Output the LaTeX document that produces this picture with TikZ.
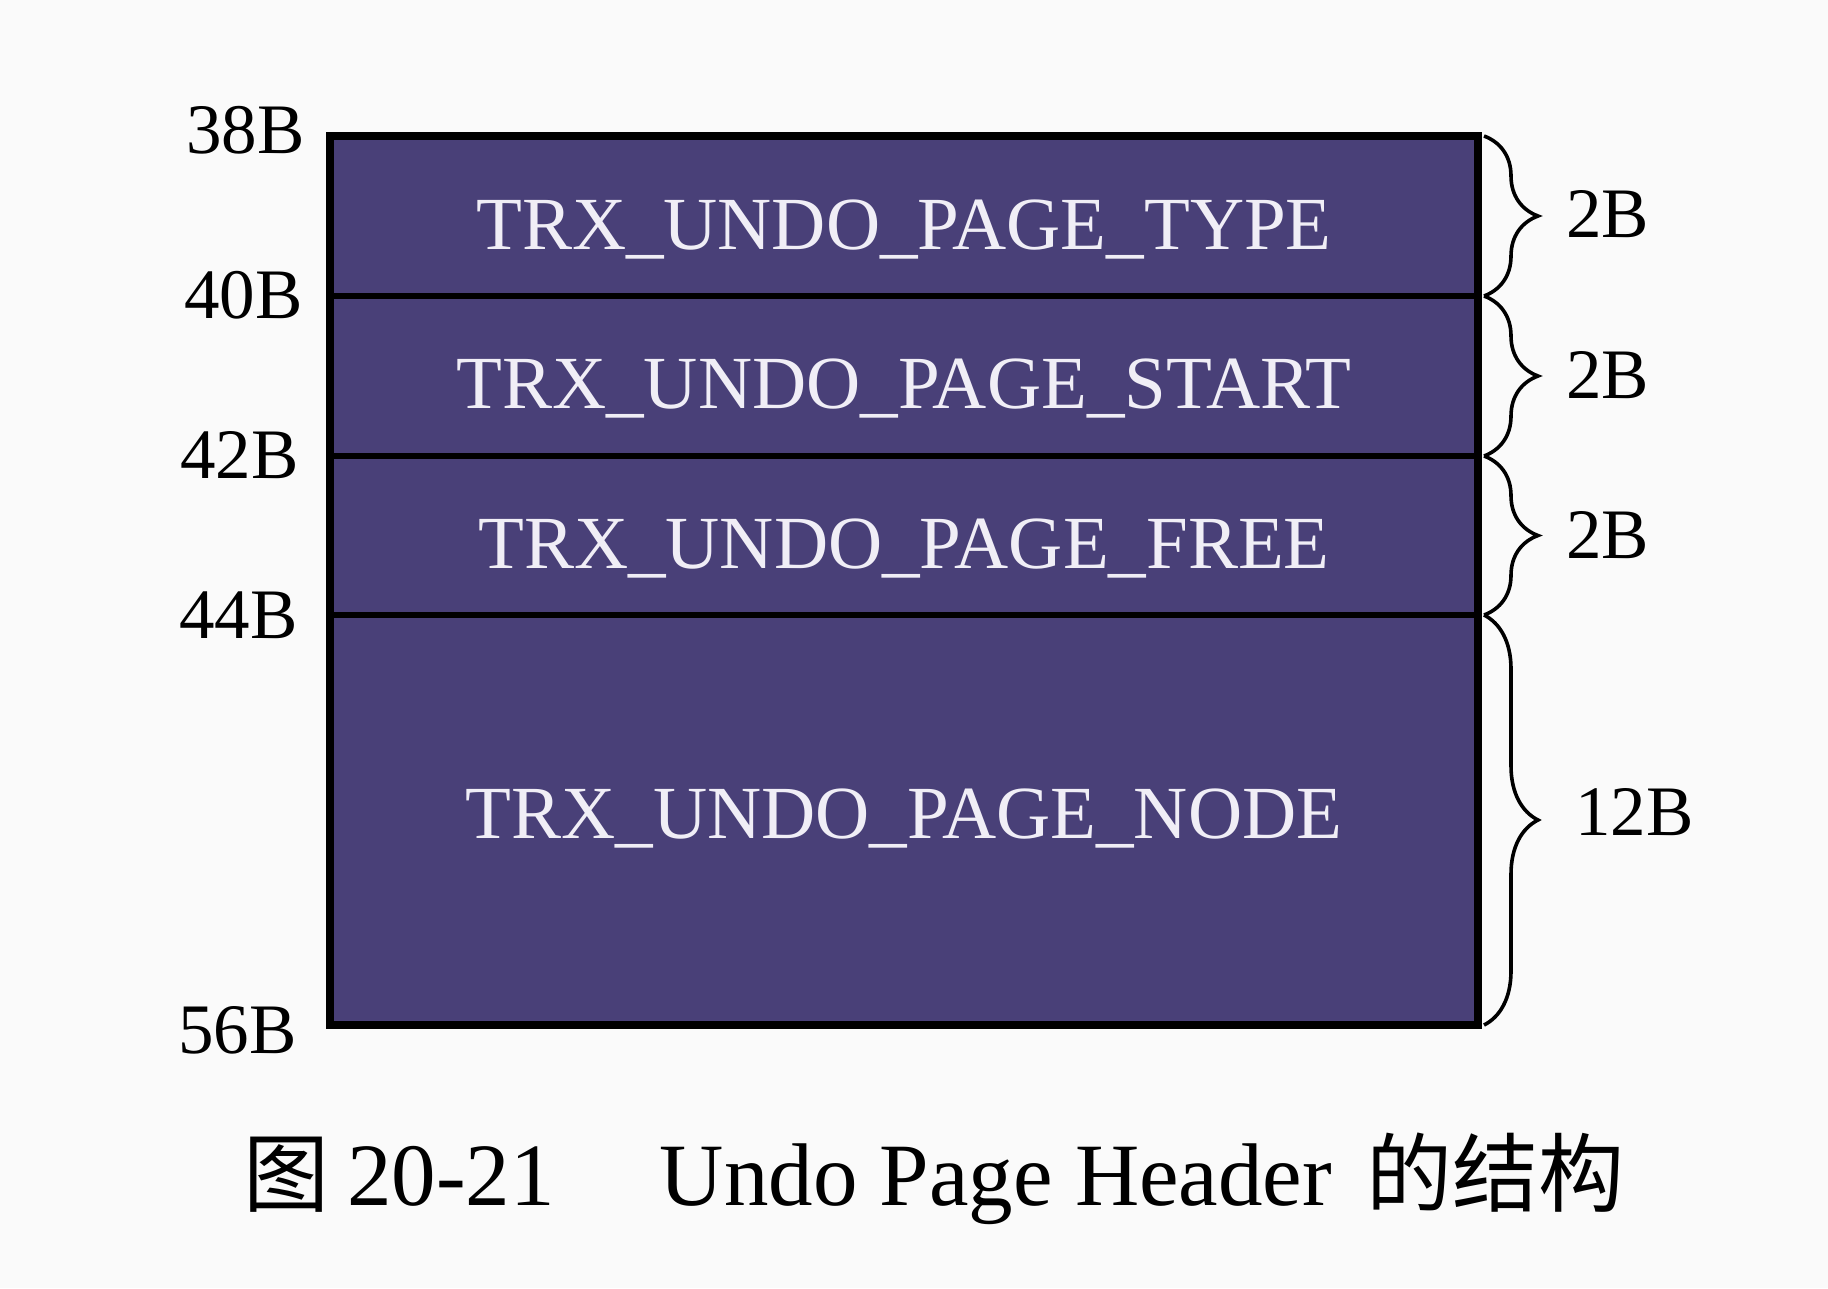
\documentclass[tikz,border=0pt]{standalone}
\usepackage{fontspec}
\setmainfont{Liberation Serif}
\newfontfamily\cjk{Noto Sans CJK SC}
\usetikzlibrary{decorations.pathreplacing}
\definecolor{fieldfill}{RGB}{73,64,120}
\definecolor{fieldtext}{RGB}{240,238,246}
\definecolor{paper}{RGB}{250,250,250}
\begin{document}
\begin{tikzpicture}[x=1pt,y=-1pt,
  field/.style={draw=black, line width=6.5pt, fill=fieldfill, text=fieldtext,
    font=\fontsize{75}{80}\selectfont, minimum width=1148pt, inner sep=0pt,
    outer sep=0pt, text depth=0pt},
  offsetlabel/.style={font=\fontsize{71}{75}\selectfont, anchor=base east, inner sep=0pt},
  sizelabel/.style={font=\fontsize{71}{75}\selectfont, anchor=base west, inner sep=0pt},
  sizebrace/.style={decorate, decoration={brace, amplitude=54pt}, line width=3.6pt},
  caption/.style={font=\fontsize{89}{95}\selectfont, anchor=base west, inner sep=0pt},
]
\fill[paper] (0,0) rectangle (1828,1288);
\useasboundingbox (0,0) rectangle (1828,1288);

% fields
\node[field, minimum height=160pt, text height=66pt] (type)  at (904,216)   {TRX\_UNDO\_PAGE\_TYPE};
\node[field, minimum height=160pt, text height=64pt] (start) at (904,376)   {TRX\_UNDO\_PAGE\_START};
\node[field, minimum height=159pt, text height=65pt] (free)  at (904,535.5) {TRX\_UNDO\_PAGE\_FREE};
\node[field, minimum height=410pt, text height=36pt] (pnode) at (904,820)   {TRX\_UNDO\_PAGE\_NODE};
\draw[line width=8.5pt] (type.north west) rectangle (pnode.south east);

% offsets
\node[offsetlabel] (o38) at (305,153)  {38B};
\node[offsetlabel] (o40) at (303,318)  {40B};
\node[offsetlabel] (o42) at (299,478)  {42B};
\node[offsetlabel] (o44) at (298,638)  {44B};
\node[offsetlabel] (o56) at (297,1053) {56B};

% braces
\draw[sizebrace] ([xshift=6pt]type.north east)  -- ([xshift=6pt]type.south east);
\draw[sizebrace] ([xshift=6pt]start.north east) -- ([xshift=6pt]start.south east);
\draw[sizebrace] ([xshift=6pt]free.north east)  -- ([xshift=6pt]free.south east);
\draw[sizebrace] ([xshift=6pt]pnode.north east) -- ([xshift=6pt]pnode.south east);

% sizes
\node[sizelabel] (s1) at (1566,237) {2B};
\node[sizelabel] (s2) at (1566,398) {2B};
\node[sizelabel] (s3) at (1566,558) {2B};
\node[sizelabel] (s4) at (1575,835) {12B};

% caption
\node[caption] (cap) at (243,1205) {{\cjk\fontsize{86}{92}\selectfont 图}\hspace{18pt}20-21\hspace{105pt}Undo Page Header\hspace{34pt}{\cjk\fontsize{86}{92}\selectfont 的结构}};
\end{tikzpicture}
\end{document}
